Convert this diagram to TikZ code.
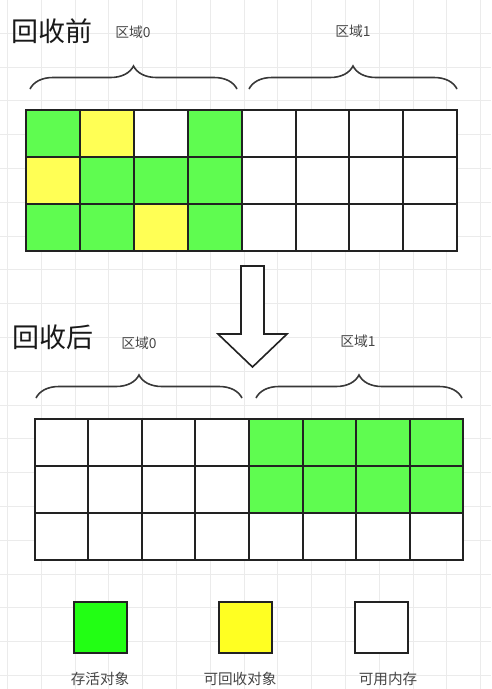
\documentclass[tikz,border=0pt]{standalone}
\usepackage{fontspec}
\newfontfamily\cjk{Noto Sans CJK SC}
\usetikzlibrary{positioning, decorations.pathreplacing}

\definecolor{live}{RGB}{95,252,80}
\definecolor{dead}{RGB}{255,255,85}
\definecolor{free}{RGB}{255,255,255}
\definecolor{keylive}{RGB}{34,255,20}
\definecolor{keydead}{RGB}{255,255,34}
\definecolor{cellline}{RGB}{34,34,34}
\definecolor{labelgray}{RGB}{70,70,70}
\definecolor{gridgray}{RGB}{235,235,235}

\begin{document}
\begin{tikzpicture}[
  x=1pt, y=-1pt,
  font=\cjk,
  cell/.style={draw=cellline, line width=2pt, inner sep=0pt, outer sep=0pt,
               minimum width=#1, minimum height=47pt},
  cell/.default=53.9pt,
  title/.style={font=\cjk\fontsize{27}{31}\selectfont, inner sep=0pt, text=black!90},
  region/.style={font=\cjk\fontsize{13.8}{16}\selectfont, inner sep=0pt, text=labelgray},
  brace/.style={decorate, decoration={brace, amplitude=23pt},
                line width=1.6pt, draw=cellline!90},
  bigarrow/.style={draw=cellline, line width=1.6pt, fill=white, line join=miter},
  key/.style={draw=cellline, line width=2pt, inner sep=0pt,
              minimum width=53pt, minimum height=51pt},
  keytext/.style={font=\cjk\fontsize{14.6}{17}\selectfont, inner sep=0pt, text=labelgray},
]
\useasboundingbox (0,0) rectangle (491,689);
\fill[white] (0,0) rectangle (491,689);

% background grid
\foreach \i in {0,...,14}
  \draw[gridgray, line width=0.8pt] ({7.3+33.8*\i},0) -- ({7.3+33.8*\i},689);
\foreach \j in {1,...,20}
  \draw[gridgray, line width=0.8pt] (0,{-0.6+33.8*\j}) -- (491,{-0.6+33.8*\j});

% ------------------- before collection -------------------
\node[title] (prehdr) at (52,31) {回收前};
\node[region] (prereg0) at (133,32) {区域0};
\node[region] (prereg1) at (353,31) {区域1};

\draw[brace] (30,89) -- (237,89);
\draw[brace] (249,89) -- (457,89);

\foreach \cells [count=\r] in {{live,dead,free,live,free,free,free,free},
                               {dead,live,live,live,free,free,free,free},
                               {live,live,dead,live,free,free,free,free}}
  \foreach \k [count=\c] in \cells
    \node[cell, fill=\k] (pre-\r-\c) at ({26+53.9*(\c-0.5)},{110+47*(\r-0.5)}) {};

% big arrow between the two states
\draw[bigarrow] (241,266) -- (264,266) -- (264,334) -- (287,334)
  -- (252.5,367) -- (218,334) -- (241,334) -- cycle;

% ------------------- after collection -------------------
\node[title] (posthdr) at (53,337.5) {回收后};
\node[region] (postreg0) at (139,343) {区域0};
\node[region] (postreg1) at (358,341.5) {区域1};

\draw[brace] (36,398) -- (242,398);
\draw[brace] (256,398) -- (462,398);

\foreach \cells [count=\r] in {{free,free,free,free,live,live,live,live},
                               {free,free,free,free,live,live,live,live},
                               {free,free,free,free,free,free,free,free}}
  \foreach \k [count=\c] in \cells
    \node[cell=53.6pt, fill=\k] (post-\r-\c) at ({34.5+53.6*(\c-0.5)},{419+47*(\r-0.5)}) {};

% ------------------- legend -------------------
\node[key, fill=keylive] (klive) at (100.5,627.5) {};
\node[key, fill=keydead] (kdead) at (245.5,627.5) {};
\node[key, fill=white] (kfree) at (381.5,627.5) {};

\node[keytext] (tlive) at (100,679) {存活对象};
\node[keytext] (tdead) at (240,679) {可回收对象};
\node[keytext] (tfree) at (388,679) {可用内存};

\end{tikzpicture}
\end{document}
